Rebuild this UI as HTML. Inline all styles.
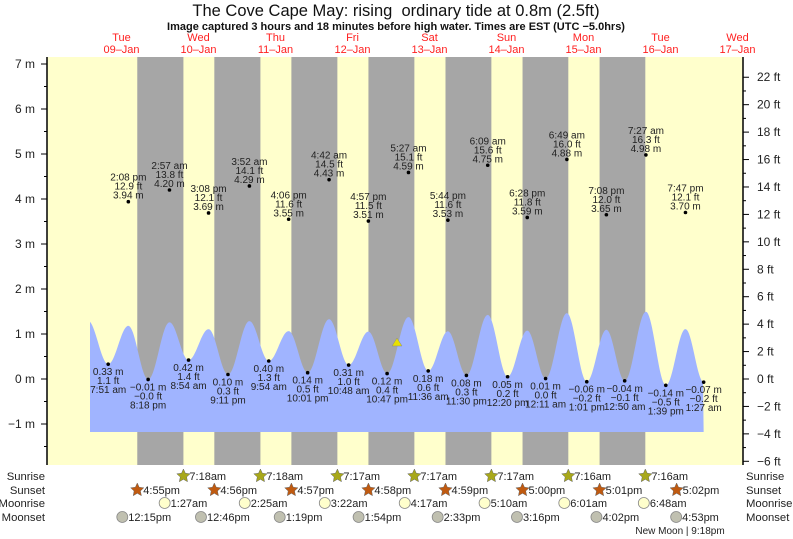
<!DOCTYPE html>
<html><head><meta charset="utf-8"><style>
html,body{margin:0;padding:0;background:#fff}
svg{display:block;font-family:"Liberation Sans",sans-serif}
</style></head><body>
<svg id="s" width="793" height="539" viewBox="0 0 793 539" xmlns="http://www.w3.org/2000/svg">
<rect x="47" y="57" width="696" height="408" fill="#ffffcc"/>
<g id="bands"></g>
<path id="tide" fill="#a0b4ff"/>
<g id="ax"></g>
<g id="lab" font-size="10" fill="#222" text-anchor="middle"></g>
<text x="396" y="16" font-size="16.5" text-anchor="middle" fill="#111">The Cove Cape May: rising&#160; ordinary tide at 0.8m (2.5ft)</text>
<text x="396" y="30" font-size="11" font-weight="bold" text-anchor="middle" fill="#111">Image captured 3 hours and 18 minutes before high water. Times are EST (UTC −5.0hrs)</text>
<polygon points="392,346 402,346 397,338" fill="#e8e000" stroke="#888" stroke-width="0.5"/>
<text x="680" y="534" font-size="10" text-anchor="middle" fill="#222">New Moon | 9:18pm</text>
</svg>
<script>
var NS="http://www.w3.org/2000/svg",s=document.getElementById('s');
function el(t,a,p,txt){var e=document.createElementNS(NS,t);for(var k in a)e.setAttribute(k,a[k]);if(txt!=null)e.textContent=txt;(p||s).appendChild(e);return e;}
var PX=77/24;function X(d,h,m){return 83+(d*24+h+m/60)*PX;}
function Y(v){return 379-v*45;}
var bands=document.getElementById('bands'),ax=document.getElementById('ax'),lab=document.getElementById('lab');
var ss=[55,56,57,58,59,60,61],sr=[18,18,17,17,17,16,16];
for(var i=0;i<7;i++){var a=X(i,16,ss[i]),b=X(i+1,7,sr[i]);el('rect',{x:a,y:57,width:b-a,height:408,fill:'#a6a6a6'},bands);}
var dn=['Tue','Wed','Thu','Fri','Sat','Sun','Mon','Tue','Wed'];
for(var i=0;i<9;i++){var x=X(i,12,0);el('text',{x:x,y:41,'font-size':11,fill:'#ff2020','text-anchor':'middle'},null,dn[i]);
el('text',{x:x,y:53,'font-size':11,fill:'#ff2020','text-anchor':'middle'},null,(9+i<10?'0':'')+(9+i)+'–Jan');}
var T=[[0,7,51,.33,0,'7:51 am'],[0,14,8,3.94,1,'2:08 pm'],[0,20,18,-.01,0,'8:18 pm'],
[1,2,57,4.20,1,'2:57 am'],[1,8,54,.42,0,'8:54 am'],[1,15,8,3.69,1,'3:08 pm'],[1,21,11,.10,0,'9:11 pm'],
[2,3,52,4.29,1,'3:52 am'],[2,9,54,.40,0,'9:54 am'],[2,16,6,3.55,1,'4:06 pm'],[2,22,1,.14,0,'10:01 pm'],
[3,4,42,4.43,1,'4:42 am'],[3,10,48,.31,0,'10:48 am'],[3,16,57,3.51,1,'4:57 pm'],[3,22,47,.12,0,'10:47 pm'],
[4,5,27,4.59,1,'5:27 am'],[4,11,36,.18,0,'11:36 am'],[4,17,44,3.53,1,'5:44 pm'],[4,23,30,.08,0,'11:30 pm'],
[5,6,9,4.75,1,'6:09 am'],[5,12,20,.05,0,'12:20 pm'],[5,18,28,3.59,1,'6:28 pm'],
[6,0,11,.01,0,'12:11 am'],[6,6,49,4.88,1,'6:49 am'],[6,13,1,-.06,0,'1:01 pm'],[6,19,8,3.65,1,'7:08 pm'],
[7,0,50,-.04,0,'12:50 am'],[7,7,27,4.98,1,'7:27 am'],[7,13,39,-.14,0,'1:39 pm'],[7,19,47,3.70,1,'7:47 pm'],
[8,1,27,-.07,0,'1:27 am']];
var P=[[X(0,1,30),1.3]];T.forEach(function(t){P.push([X(t[0],t[1],t[2]),t[4]?t[3]*0.3:t[3]]);});
var x0=90,x1=X(8,1,27),d='M'+x0+',432';
for(var x=x0;x<=x1+0.01;x+=1){var xx=Math.min(x,x1);for(var j=0;j<P.length-1;j++){if(xx>=P[j][0]&&xx<=P[j+1][0]){var f=(xx-P[j][0])/(P[j+1][0]-P[j][0]);var v=P[j][1]+(P[j+1][1]-P[j][1])*(1-Math.cos(Math.PI*f))/2;d+=' L'+xx.toFixed(1)+','+Y(v).toFixed(1);break;}}}
d+=' L'+x1+',432 Z';document.getElementById('tide').setAttribute('d',d);
T.forEach(function(t){var x=X(t[0],t[1],t[2]),y=Y(t[3]);el('circle',{cx:x,cy:y,r:1.8,fill:'#000'},lab);
var m=t[3].toFixed(2).replace('-','−')+' m',ftv=(t[3]/0.3048);var ft=(Math.abs(ftv)<0.05&&t[3]<0?'−0.0':ftv.toFixed(1).replace('-','−'))+' ft';
if(t[4]){el('text',{x:x,y:y-3},lab,m);el('text',{x:x,y:y-12},lab,ft);el('text',{x:x,y:y-21},lab,t[5]);}
else{el('text',{x:x,y:y+11},lab,m);el('text',{x:x,y:y+20},lab,ft);el('text',{x:x,y:y+29},lab,t[5]);}});
el('line',{x1:47,y1:57,x2:47,y2:465,stroke:'#000','stroke-width':1.5},ax);
el('line',{x1:743,y1:57,x2:743,y2:465,stroke:'#000','stroke-width':1.5},ax);
for(var v=-1;v<=7;v++){var y=Y(v);el('line',{x1:41,y1:y,x2:47,y2:y,stroke:'#000'},ax);
el('text',{x:35,y:y+4,'font-size':12,'text-anchor':'end',fill:'#222'},ax,(v<0?'−1':v)+' m');}
for(var v=-1.5;v<=7;v+=1){var y=Y(v);if(y>465)continue;el('line',{x1:44,y1:y,x2:47,y2:y,stroke:'#000'},ax);}
for(var f=-6;f<=22;f++){var y=379-f*13.716;var maj=f%2==0;el('line',{x1:743,y1:y,x2:maj?749:746,y2:y,stroke:'#000'},ax);
if(maj)el('text',{x:757,y:y+4,'font-size':12,fill:'#222'},ax,(f<0?'−'+(-f):f)+' ft');}
var rows=[['Sunrise',476],['Sunset',490],['Moonrise',503],['Moonset',517]];
rows.forEach(function(r){el('text',{x:45,y:r[1]+4,'font-size':11.3,'text-anchor':'end',fill:'#222'},null,r[0]);el('text',{x:746,y:r[1]+4,'font-size':11.3,fill:'#222'},null,r[0]);});
function star(cx,cy,fill){var p='';for(var k=0;k<10;k++){var a=-Math.PI/2+k*Math.PI/5,r=k%2?3.3:7;p+=(cx+r*Math.cos(a)).toFixed(1)+','+(cy+r*Math.sin(a)).toFixed(1)+' ';}el('polygon',{points:p,fill:fill,stroke:'#666','stroke-width':0.5});}
function item(x,y,kind,txt){if(kind<2)star(x,y,kind==0?'#a8a81a':'#c05a10');else el('circle',{cx:x,cy:y,r:5.5,fill:kind==2?'#ffffcc':'#c0c0b0',stroke:'#888','stroke-width':0.8});
el('text',{x:x+6,y:y+4,'font-size':11,fill:'#222'},null,txt);}
for(var i=0;i<7;i++)item(X(i+1,7,sr[i]),476,0,'7:'+sr[i]+'am');
for(var i=0;i<8;i++){var m=55+i;item(X(i,16,m),490,1,(m>=60?'5:0'+(m-60):'4:'+m)+'pm');}
var mr=[[1,27],[2,25],[3,22],[4,17],[5,10],[6,1],[6,48]];
mr.forEach(function(t,i){item(X(i+1,t[0],t[1]),503,2,t[0]+':'+(t[1]<10?'0':'')+t[1]+'am');});
var ms=[[12,15],[12,46],[13,19],[13,54],[14,33],[15,16],[16,2],[16,53]];
ms.forEach(function(t,i){item(X(i,t[0],t[1]),517,3,(t[0]>12?t[0]-12:t[0])+':'+(t[1]<10?'0':'')+t[1]+'pm');});
</script>
</body></html>
